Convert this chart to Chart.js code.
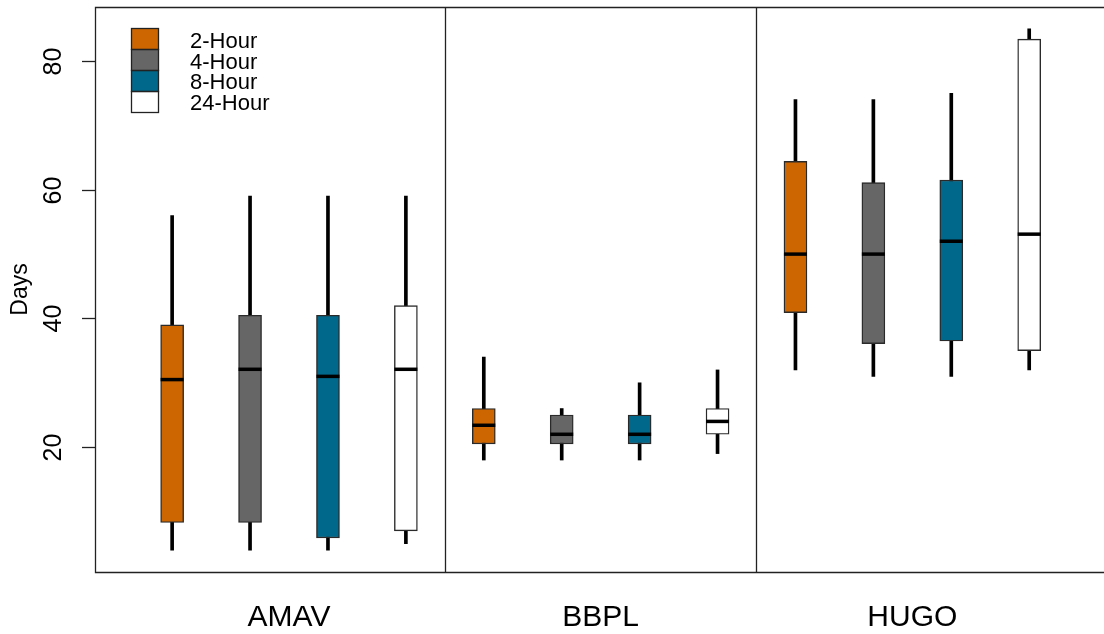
<!DOCTYPE html>
<html><head><meta charset="utf-8">
<script src="https://cdn.jsdelivr.net/npm/chart.js@4"></script>
<style>html,body{margin:0;padding:0;background:#fff}#wrap{width:1104px;height:634px}</style>
</head><body><div id="wrap"><canvas id="c" width="1104" height="634"></canvas></div>
<script>
// ---- data ----
const sites = ['AMAV', 'BBPL', 'HUGO'];
const durations = ['2-Hour', '4-Hour', '8-Hour', '24-Hour'];
const fillColors = ['#CD6600', '#666666', '#00688B', '#FFFFFF'];
// per duration, values across sites (AMAV, BBPL, HUGO)
const whiskerLow = [[4, 18, 32], [4, 18, 31], [4, 18, 31], [5, 19, 32]];
const q1Values   = [[8.3, 20.5, 40.9], [8.3, 20.5, 36.1], [5.9, 20.5, 36.5], [7.0, 22.0, 35.0]];
const medians    = [[30.5, 23.4, 50.0], [32.1, 22.0, 50.0], [31.0, 22.0, 52.0], [32.1, 24.0, 53.1]];
const q3Values   = [[39.0, 26.0, 64.4], [40.5, 25.0, 61.1], [40.5, 25.0, 61.5], [42.0, 26.0, 83.4]];
const whiskerHigh = [[56, 34, 74], [59, 26, 74], [59, 30, 75], [59, 32, 85]];
const yTickValues = [20, 40, 60, 80];
const groupCenters = [2.5, 6.5, 10.5];
const groupSeparators = [4.5, 8.5];

const FONT = '"Liberation Sans", Arial, Helvetica, sans-serif';
Chart.defaults.font.family = FONT;
Chart.defaults.color = '#000';

const pos = (s, d) => s * 4 + d + 1;
const datasets = [];
durations.forEach((name, d) => {
  datasets.push({
    type: 'bar', label: name + ' whisker', order: 3, grouped: false,
    data: sites.map((s, i) => ({x: pos(i, d), y: [whiskerLow[d][i], whiskerHigh[d][i]]})),
    backgroundColor: '#000', borderWidth: 0, barThickness: 3
  });
  datasets.push({
    type: 'bar', label: name, order: 2, grouped: false,
    data: sites.map((s, i) => ({x: pos(i, d), y: [q1Values[d][i], q3Values[d][i]]})),
    backgroundColor: fillColors[d], borderColor: '#2a2a2a', borderWidth: 1.4,
    borderSkipped: false, barThickness: 23
  });
  datasets.push({
    type: 'line', label: name + ' median', order: 1, showLine: false,
    data: sites.map((s, i) => ({x: pos(i, d), y: medians[d][i]})),
    pointStyle: 'line', pointRadius: 11.5, pointHoverRadius: 11.5,
    pointBorderWidth: 3.5, pointBorderColor: '#000', pointBackgroundColor: '#000'
  });
});

const decor = {
  id: 'decor',
  afterDraw(chart) {
    const ctx = chart.ctx, a = chart.chartArea;
    const xs = chart.scales.x, ys = chart.scales.y;
    ctx.save();
    ctx.strokeStyle = '#222'; ctx.lineWidth = 1.3;
    // frame (right edge off canvas as in the reference)
    ctx.beginPath();
    ctx.moveTo(a.right + 5, a.top + 0.5); ctx.lineTo(a.left + 0.5, a.top + 0.5);
    ctx.lineTo(a.left + 0.5, a.bottom + 0.5); ctx.lineTo(a.right + 5, a.bottom + 0.5);
    ctx.stroke();
    // group separators
    groupSeparators.forEach(v => {
      const x = Math.round(xs.getPixelForValue(v)) + 0.5;
      ctx.beginPath(); ctx.moveTo(x, a.top); ctx.lineTo(x, a.bottom); ctx.stroke();
    });
    // y ticks and rotated labels
    ctx.fillStyle = '#000';
    ctx.font = '25px ' + FONT;
    ctx.textAlign = 'center'; ctx.textBaseline = 'middle';
    ys.ticks.forEach(t => {
      const y = Math.round(ys.getPixelForValue(t.value)) + 0.5;
      ctx.beginPath(); ctx.moveTo(a.left - 13, y); ctx.lineTo(a.left, y); ctx.stroke();
      ctx.save(); ctx.translate(54, y); ctx.rotate(-Math.PI / 2);
      ctx.fillText(String(t.value), 0, 0); ctx.restore();
    });
    // legend
    const lx = 131, ly = 28.5, lw = 27, lh = 21;
    durations.forEach((name, d) => {
      ctx.fillStyle = fillColors[d];
      ctx.fillRect(lx, ly + d * lh, lw, lh);
    });
    ctx.strokeStyle = '#222'; ctx.lineWidth = 1.3;
    durations.forEach((name, d) => ctx.strokeRect(lx + 0.5, ly + d * lh, lw, lh));
    ctx.fillStyle = '#000'; ctx.font = '22px ' + FONT;
    ctx.textAlign = 'left'; ctx.textBaseline = 'middle';
    durations.forEach((name, d) => ctx.fillText(name, 190, 42 + d * 20.7));
    ctx.restore();
  }
};

new Chart(document.getElementById('c'), {
  data: {datasets},
  options: {
    responsive: false, animation: false, events: [],
    devicePixelRatio: 1,
    layout: {autoPadding: false, padding: {top: 7, right: 0, left: 0, bottom: 0}},
    plugins: {legend: {display: false}, tooltip: {enabled: false}},
    scales: {
      x: {
        type: 'linear', min: 0.01, max: 12.96, offset: false,
        grid: {display: false}, border: {display: false},
        afterBuildTicks: s => { s.ticks = groupCenters.map(v => ({value: v})); },
        afterFit: s => { s.height = 62; },
        ticks: {autoSkip: false, maxRotation: 0, padding: 20,
          font: {size: 30}, color: '#000',
          callback: (v, i) => sites[i]}
      },
      y: {
        type: 'linear', min: 0.6, max: 88.4,
        grid: {display: false}, border: {display: false},
        afterBuildTicks: s => { s.ticks = yTickValues.map(v => ({value: v})); },
        afterFit: s => { s.width = 95; },
        ticks: {display: false},
        title: {display: true, text: 'Days', font: {size: 23}, color: '#000', padding: {top: 7, bottom: 0}}
      }
    }
  },
  plugins: [decor]
});
</script></body></html>
